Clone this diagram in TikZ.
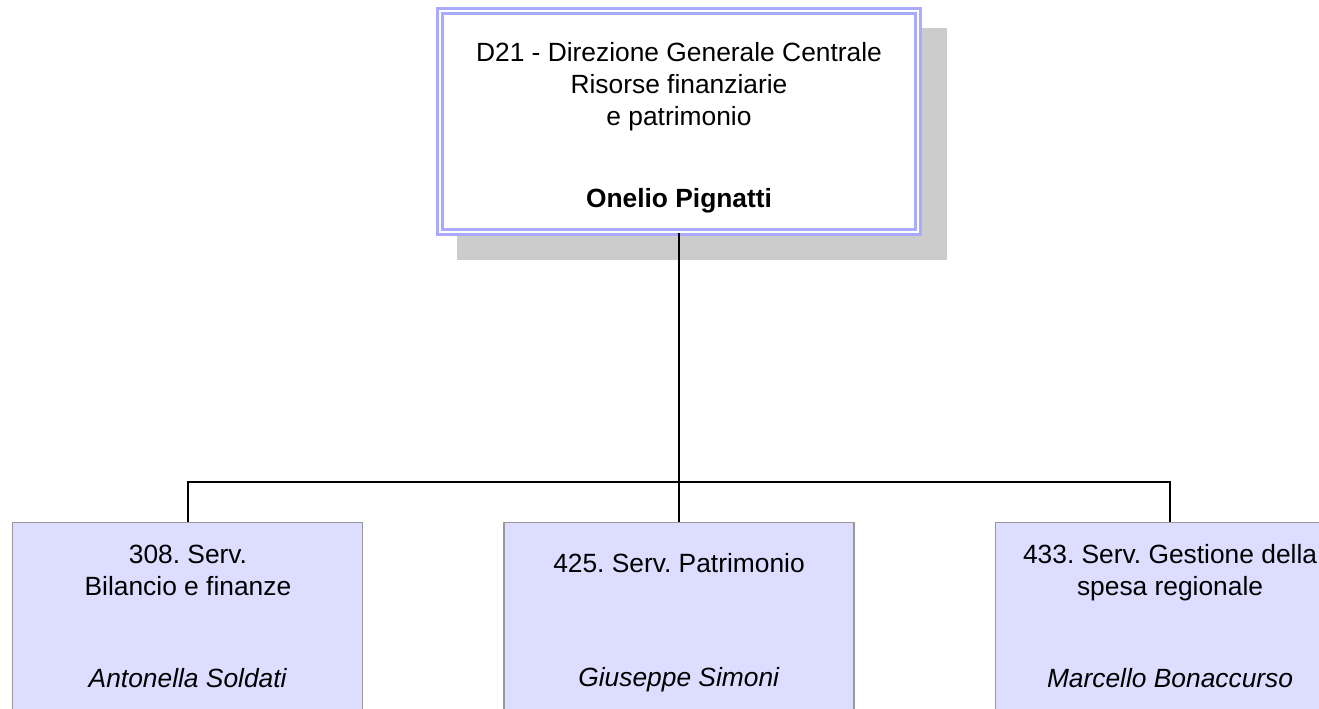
\documentclass[tikz,border=0pt]{standalone}
\usepackage{fontspec}
\setmainfont{Liberation Sans}
\frenchspacing
\usepackage{tikz}
\usetikzlibrary{positioning, calc, backgrounds}

\definecolor{dirline}{RGB}{170,170,255}
\definecolor{unitfill}{RGB}{221,221,255}
\definecolor{unitline}{RGB}{153,153,153}
\definecolor{shadowgray}{RGB}{204,204,204}

\begin{document}
\begin{tikzpicture}[
  node distance=5.77cm and 2.8cm,
  font=\fontsize{15}{18.2}\selectfont,
  dirbox/.style={
    draw=dirline,
    line width=1.7pt,
    double=white,
    double distance=1.1pt,
    fill=white,
    minimum width=9.56cm,
    minimum height=4.42cm,
    align=center
  },
  unit/.style={
    draw=unitline,
    line width=0.6pt,
    fill=unitfill,
    minimum width=7cm,
    minimum height=3.74cm,
    align=center
  },
  link/.style={draw=black, line width=0.8pt}
]
\useasboundingbox (0,0) rectangle (26.38,-14.18);

% Top row
\node[dirbox] (dir) at (13.58,-2.43) {\rule{0pt}{17.8pt}D21 - Direzione Generale Centrale \\ Risorse finanziarie \\ e patrimonio \\[1cm] \textbf{Onelio Pignatti}};

\begin{scope}[on background layer]
\fill[shadowgray] ($(dir.north west)+(0.36,-0.36)$) rectangle ($(dir.south east)+(0.54,-0.54)$);
\end{scope}

% Second row
\node[unit, below=of dir] (s425) {\rule{0pt}{19pt}425. Serv. Patrimonio \\[1.64cm] \textit{Giuseppe Simoni}};
\node[unit, left=of s425] (s308) {308. Serv. \\ Bilancio e finanze \\[1.2cm] \textit{Antonella Soldati}};
\node[unit, right=of s425] (s433) {433. Serv. Gestione della \\ spesa regionale \\[1.2cm] \textit{Marcello Bonaccurso}};

% Connectors
\coordinate[above=0.8cm of s425.north] (bus);
\draw[link] (dir.south) -- (bus);
\draw[link] (bus) -| (s308.north);
\draw[link] (bus) -- (s425.north);
\draw[link] (bus) -| (s433.north);

\end{tikzpicture}
\end{document}
